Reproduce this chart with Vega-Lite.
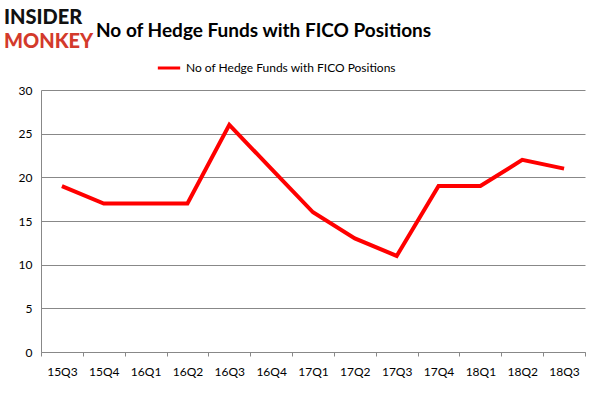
{
  "$schema": "https://vega.github.io/schema/vega-lite/v6.json",
  "width": 544,
  "height": 262,
  "autosize": {"type": "none"},
  "padding": {"left": 41, "top": 90, "right": 17, "bottom": 46},
  "background": "white",
  "config": {
    "view": {"stroke": null},
    "font": "Lato",
    "axis": {"labelFont": "Lato", "labelFontSize": 12, "labelColor": "#000000"}
  },
  "title": {
    "text": "No of Hedge Funds with FICO Positions",
    "font": "Lato",
    "fontSize": 19,
    "fontWeight": "bold",
    "color": "#000000",
    "anchor": "start",
    "frame": "group",
    "dx": 55,
    "offset": -33
  },
  "data": {
    "values": [
      {"q": "15Q3", "v": 19, "s": "No of Hedge Funds with FICO Positions"},
      {"q": "15Q4", "v": 17, "s": "No of Hedge Funds with FICO Positions"},
      {"q": "16Q1", "v": 17, "s": "No of Hedge Funds with FICO Positions"},
      {"q": "16Q2", "v": 17, "s": "No of Hedge Funds with FICO Positions"},
      {"q": "16Q3", "v": 26, "s": "No of Hedge Funds with FICO Positions"},
      {"q": "16Q4", "v": 21, "s": "No of Hedge Funds with FICO Positions"},
      {"q": "17Q1", "v": 16, "s": "No of Hedge Funds with FICO Positions"},
      {"q": "17Q2", "v": 13, "s": "No of Hedge Funds with FICO Positions"},
      {"q": "17Q3", "v": 11, "s": "No of Hedge Funds with FICO Positions"},
      {"q": "17Q4", "v": 19, "s": "No of Hedge Funds with FICO Positions"},
      {"q": "18Q1", "v": 19, "s": "No of Hedge Funds with FICO Positions"},
      {"q": "18Q2", "v": 22, "s": "No of Hedge Funds with FICO Positions"},
      {"q": "18Q3", "v": 21, "s": "No of Hedge Funds with FICO Positions"}
    ]
  },
  "layer": [
    {
      "mark": {"type": "line", "strokeWidth": 4, "strokeJoin": "miter"},
      "encoding": {
        "x": {
          "field": "q", "type": "ordinal", "sort": null,
          "scale": {"type": "band", "paddingInner": 0, "paddingOuter": 0},
          "axis": {
            "title": null, "labelAngle": 0, "tickBand": "extent",
            "domainColor": "#888888", "tickColor": "#888888", "tickSize": 4,
            "labelPadding": 10, "grid": false
          }
        },
        "y": {
          "field": "v", "type": "quantitative",
          "scale": {"domain": [0, 30], "nice": false},
          "axis": {
            "title": null, "values": [0, 5, 10, 15, 20, 25, 30],
            "ticks": false, "labelPadding": 9,
            "domainColor": "#888888", "gridColor": "#888888", "gridOpacity": 1
          }
        },
        "color": {
          "field": "s", "type": "nominal",
          "scale": {"range": ["#FF0000"]},
          "legend": {
            "title": null, "orient": "none", "legendX": 115, "legendY": -35,
            "symbolType": "stroke", "symbolStrokeWidth": 3, "symbolSize": 500,
            "labelLimit": 400,
            "labelFont": "Lato", "labelFontSize": 12, "labelColor": "#000000"
          }
        }
      }
    },
    {
      "data": {"values": [{"t": "INSIDER"}]},
      "mark": {"type": "text", "font": "Lato", "fontSize": 20, "fontWeight": 900, "color": "#111111", "align": "left", "baseline": "middle"},
      "encoding": {"text": {"field": "t"}, "x": {"value": -37}, "y": {"value": -72}}
    },
    {
      "data": {"values": [{"t": "MONKEY"}]},
      "mark": {"type": "text", "font": "Lato", "fontSize": 20, "fontWeight": 900, "color": "#d33a2c", "align": "left", "baseline": "middle"},
      "encoding": {"text": {"field": "t"}, "x": {"value": -37}, "y": {"value": -48}}
    }
  ]
}
